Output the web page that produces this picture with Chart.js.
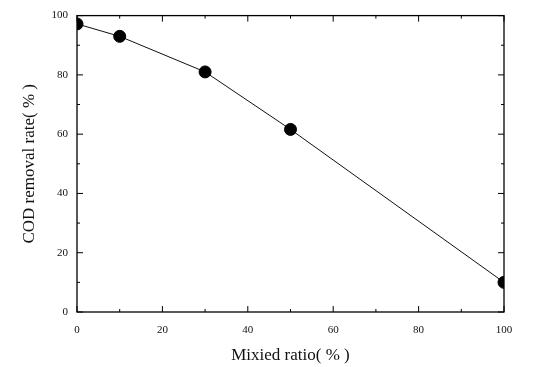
<!DOCTYPE html>
<html>
<head>
<meta charset="utf-8">
<style>
  html, body { margin: 0; padding: 0; background: #fff; }
  #wrap { width: 533px; height: 367px; }
</style>
<script src="https://cdn.jsdelivr.net/npm/chart.js@4/dist/chart.umd.min.js"></script>
</head>
<body>
<div id="wrap"><canvas id="chart"></canvas></div>
<script>
const mixRatio = [0, 10, 30, 50, 100];
const codRemoval = [97.2, 93, 81, 61.6, 10];
const xTickValues = [0, 20, 40, 60, 80, 100];
const yTickValues = [0, 20, 40, 60, 80, 100];
const minorStep = 10;

const serif = '"Liberation Serif", "DejaVu Serif", serif';

// frame + inward ticks on all four sides
const frameTicks = {
  id: 'frameTicks',
  afterDraw(chart) {
    const { ctx, chartArea: a, scales } = chart;
    const x = scales.x, y = scales.y;
    ctx.save();
    ctx.strokeStyle = '#000';
    ctx.lineWidth = 1.3;
    ctx.strokeRect(a.left, a.top, a.right - a.left, a.bottom - a.top);
    ctx.lineWidth = 1;
    ctx.beginPath();
    for (let v = 0; v <= 100; v += minorStep) {
      const len = xTickValues.includes(v) ? 6 : 3;
      const px = x.getPixelForValue(v);
      ctx.moveTo(px, a.bottom); ctx.lineTo(px, a.bottom - len);
      ctx.moveTo(px, a.top); ctx.lineTo(px, a.top + len);
    }
    for (let v = 0; v <= 100; v += minorStep) {
      const len = yTickValues.includes(v) ? 6 : 3;
      const py = y.getPixelForValue(v);
      ctx.moveTo(a.left, py); ctx.lineTo(a.left + len, py);
      ctx.moveTo(a.right, py); ctx.lineTo(a.right - len, py);
    }
    ctx.stroke();
    ctx.restore();
  },
};

const points = mixRatio.map((v, i) => ({ x: v, y: codRemoval[i] }));

new Chart(document.getElementById('chart'), {
  type: 'scatter',
  data: {
    datasets: [{
      data: points,
      showLine: true,
      borderColor: '#111',
      borderWidth: 1,
      backgroundColor: '#000',
      pointBackgroundColor: '#000',
      pointBorderColor: '#000',
      pointRadius: 6,
      tension: 0,
    }],
  },
  options: {
    responsive: true,
    maintainAspectRatio: false,
    animation: false,
    layout: { padding: { left: 15, right: 29, top: 12, bottom: 0 } },
    plugins: {
      legend: { display: false },
      tooltip: { enabled: false },
    },
    scales: {
      x: {
        type: 'linear',
        min: 0,
        max: 100,
        afterFit: (scale) => { scale.height = 55; },
        afterBuildTicks: (scale) => { scale.ticks = xTickValues.map((v) => ({ value: v })); },
        grid: { display: false, drawTicks: false },
        border: { display: false },
        ticks: { color: '#111', padding: 12, maxRotation: 0, font: { family: serif, size: 11 } },
        title: { display: true, text: 'Mixied ratio( % )', color: '#111', padding: { top: 10, bottom: 1 }, font: { family: serif, size: 17 } },
      },
      y: {
        type: 'linear',
        min: 0,
        max: 100,
        afterFit: (scale) => { scale.width = 62; },
        afterBuildTicks: (scale) => { scale.ticks = yTickValues.map((v) => ({ value: v })); },
        grid: { display: false, drawTicks: false },
        border: { display: false },
        ticks: { color: '#111', padding: 9, font: { family: serif, size: 11 } },
        title: { display: true, text: 'COD removal rate( % )', color: '#111', padding: { bottom: 0 }, font: { family: serif, size: 17 } },
      },
    },
  },
  plugins: [frameTicks],
});
</script>
</body>
</html>
